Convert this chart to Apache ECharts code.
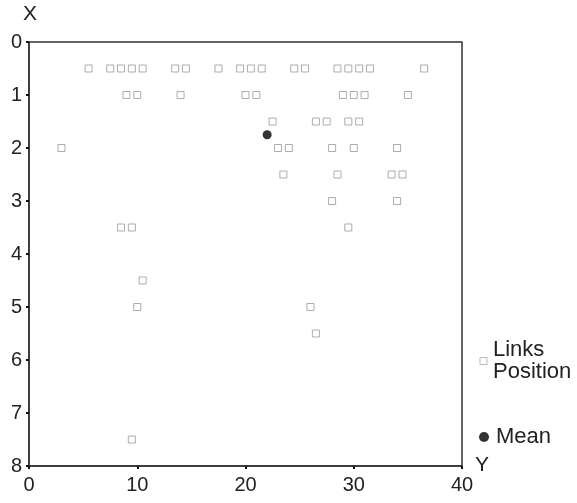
<!DOCTYPE html>
<html>
<head>
<meta charset="utf-8">
<script src="https://cdn.jsdelivr.net/npm/echarts@6/dist/echarts.min.js"></script>
<style>html,body{margin:0;padding:0;background:#fff;}#c{width:577px;height:503px;}</style>
</head>
<body>
<div id="c"></div>
<script>
// Links positions: [Y value, X value]
const linkY = [5.5,7.5,8.5,9.5,10.5,13.5,14.5,17.5,19.5,20.5,21.5,24.5,25.5,28.5,29.5,30.5,31.5,36.5,
  9,10,14,20,21,29,30,31,35,
  22.5,26.5,27.5,29.5,30.5,
  3,23,24,28,30,34,
  23.5,28.5,33.5,34.5,
  28,34,
  8.5,9.5,29.5,
  10.5,
  10,26,
  26.5,
  9.5];
const linkX = [0.5,0.5,0.5,0.5,0.5,0.5,0.5,0.5,0.5,0.5,0.5,0.5,0.5,0.5,0.5,0.5,0.5,0.5,
  1,1,1,1,1,1,1,1,1,
  1.5,1.5,1.5,1.5,1.5,
  2,2,2,2,2,2,
  2.5,2.5,2.5,2.5,
  3,3,
  3.5,3.5,3.5,
  4.5,
  5,5,
  5.5,
  7.5];
const meanY = [22];
const meanX = [1.75];
const xTicks = [0,10,20,30,40];
const yTicks = [0,1,2,3,4,5,6,7,8];

const font = 'Liberation Sans, Arial, sans-serif';
const chart = echarts.init(document.getElementById('c'), null, {renderer:'canvas'});
chart.setOption({
  animation:false,
  backgroundColor:'#fff',
  grid:{left:29,top:42,right:115,bottom:37,show:true,borderColor:'#333',borderWidth:1.5,backgroundColor:'transparent'},
  xAxis:{type:'value',min:xTicks[0],max:xTicks[xTicks.length-1],interval:10,position:'bottom',
    axisLine:{onZero:false,lineStyle:{color:'#333',width:1.5}},
    axisTick:{show:true,length:3,lineStyle:{color:'#111',width:2}},
    axisLabel:{color:'#222',fontSize:20,fontFamily:font,margin:9},
    splitLine:{show:false}},
  yAxis:{type:'value',min:yTicks[0],max:yTicks[yTicks.length-1],interval:1,inverse:true,
    axisLine:{onZero:false,lineStyle:{color:'#333',width:1.5}},
    axisTick:{show:true,length:3,lineStyle:{color:'#111',width:2}},
    axisLabel:{color:'#222',fontSize:20,fontFamily:font,margin:7},
    splitLine:{show:false}},
  legend:[
    {orient:'vertical',left:479.5,top:339,padding:0,itemWidth:7,itemHeight:7,itemGap:0,
      textStyle:{fontSize:22,fontFamily:font,color:'#222',lineHeight:22,padding:[0,0,0,1]},
      formatter:function(n){return n==='Links Position'?'Links\nPosition':n;},
      data:[{name:'Links Position',icon:'rect',itemStyle:{color:'#fff',borderColor:'#aaa',borderWidth:1}}]},
    {orient:'vertical',left:479,top:426,padding:0,itemWidth:10,itemHeight:10,itemGap:0,
      textStyle:{fontSize:22,fontFamily:font,color:'#222',padding:[0,0,0,2]},
      data:[{name:'Mean',icon:'circle',itemStyle:{color:'#000'}}]}
  ],
  graphic:[
    {type:'text',left:23,top:4,style:{text:'X',fontSize:21,fontFamily:font,fill:'#222'}},
    {type:'text',left:475,top:455,style:{text:'Y',fontSize:21,fontFamily:font,fill:'#222'}}
  ],
  series:[
    {name:'Links Position',type:'scatter',symbol:'rect',symbolSize:7,
      itemStyle:{color:'#fff',borderColor:'#999',borderWidth:1},
      data:linkY.map((v,i)=>[v,linkX[i]])},
    {name:'Mean',type:'scatter',symbol:'circle',symbolSize:9,
      itemStyle:{color:'#000'},z:5,
      data:meanY.map((v,i)=>[v,meanX[i]])}
  ]
});
</script>
</body>
</html>
